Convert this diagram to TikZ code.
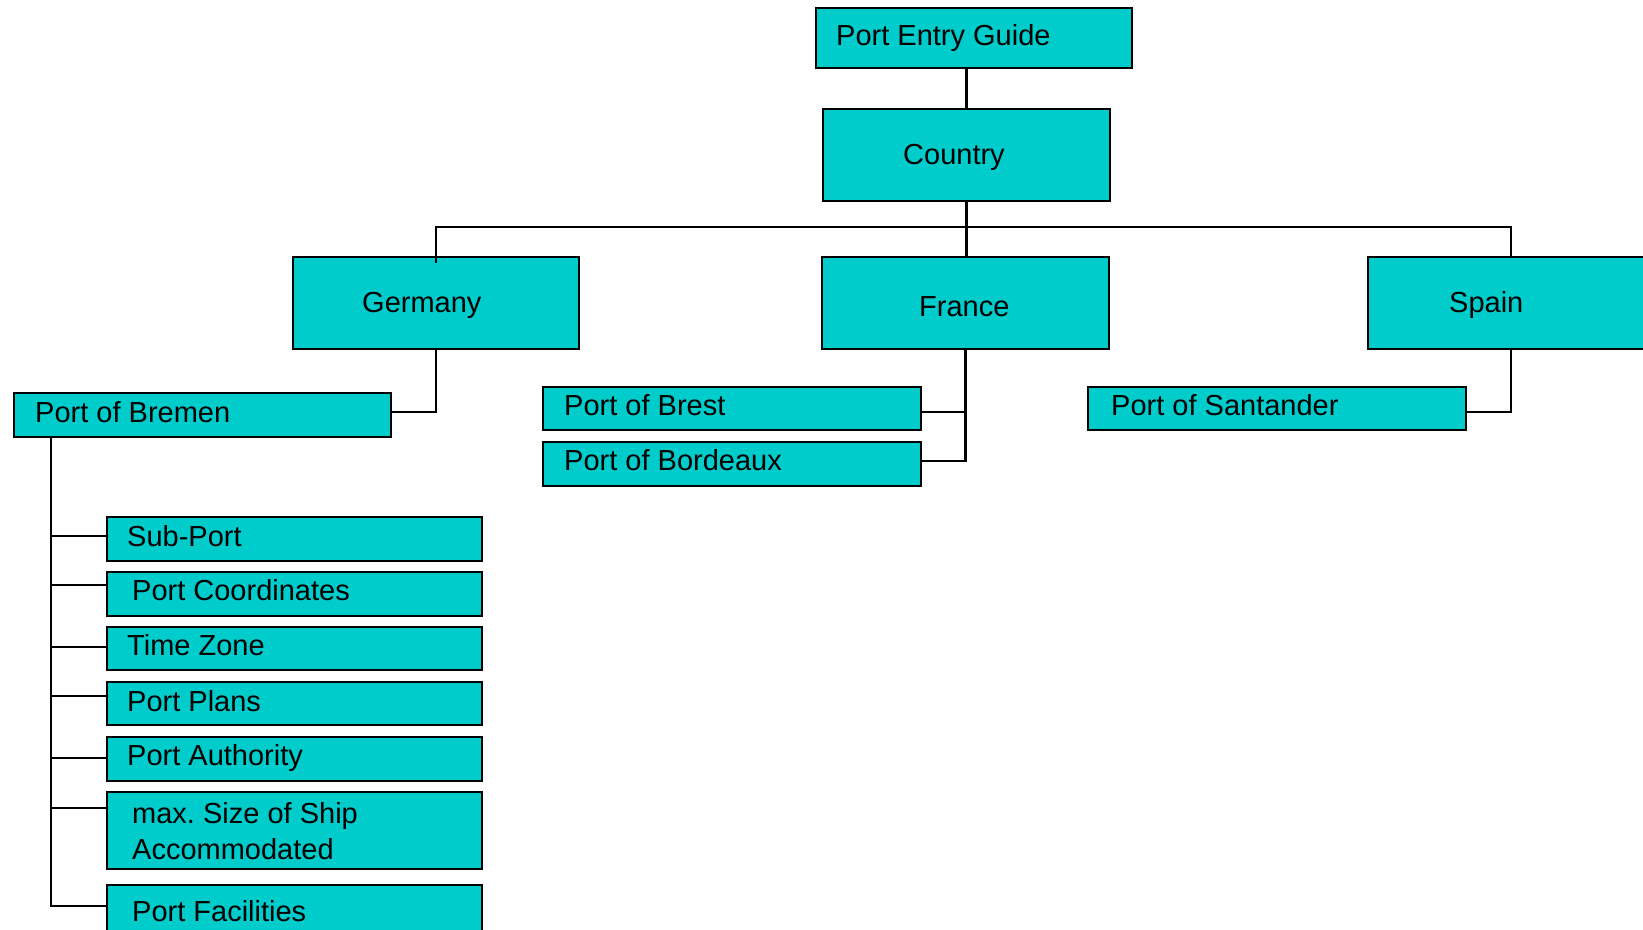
\documentclass[tikz,border=0pt]{standalone}
\usepackage{fontspec}
\setmainfont{Liberation Sans}
\definecolor{boxc}{RGB}{0,204,204}
\frenchspacing
\begin{document}
\begin{tikzpicture}[x=1pt,y=-1pt,
  box/.style={draw=black, fill=boxc, rectangle, inner sep=0pt, outer sep=0pt, line width=2.6pt, anchor=north west},
  txt/.style={anchor=base west, inner sep=0pt, font=\fontsize{29}{35}\selectfont, text=black},
  conn/.style={draw=black, line width=2.6pt}]
\path[use as bounding box, clip] (0,0) rectangle (1643,929);
\fill[white] (0,0) rectangle (1643,929);

% boxes
\node[box, minimum width=316pt, minimum height=60pt] (pe) at (816,8) {};
\node[box, minimum width=287pt, minimum height=92pt] (country) at (823,109) {};
\node[box, minimum width=286pt, minimum height=92pt] (germany) at (293,257) {};
\node[box, minimum width=287pt, minimum height=92pt] (france) at (822,257) {};
\node[box, minimum width=320pt, minimum height=92pt] (spain) at (1368,257) {};
\node[box, minimum width=377pt, minimum height=44pt] (bremen) at (14,393) {};
\node[box, minimum width=378pt, minimum height=43pt] (brest) at (543,387) {};
\node[box, minimum width=378pt, minimum height=44pt] (bordeaux) at (543,442) {};
\node[box, minimum width=378pt, minimum height=43pt] (santander) at (1088,387) {};
\node[box, minimum width=375pt, minimum height=44pt] (subport) at (107,517) {};
\node[box, minimum width=375pt, minimum height=44pt] (coords) at (107,572) {};
\node[box, minimum width=375pt, minimum height=43pt] (time) at (107,627) {};
\node[box, minimum width=375pt, minimum height=43pt] (plans) at (107,682) {};
\node[box, minimum width=375pt, minimum height=44pt] (authority) at (107,737) {};
\node[box, minimum width=375pt, minimum height=77pt] (maxsize) at (107,792) {};
\node[box, minimum width=375pt, minimum height=80pt] (facilities) at (107,885) {};

% texts
\node[txt] (t-pe) at (836,45) {Port Entry Guide};
\node[txt] (t-country) at (903,164) {Country};
\node[txt] (t-germany) at (362,312) {Germany};
\node[txt] (t-france) at (919,316) {France};
\node[txt] (t-spain) at (1449,312) {Spain};
\node[txt] (t-bremen) at (35,422) {Port of Bremen};
\node[txt] (t-brest) at (564,415) {Port of Brest};
\node[txt] (t-bordeaux) at (564,470) {Port of Bordeaux};
\node[txt] (t-santander) at (1111,415) {Port of Santander};
\node[txt] (t-subport) at (127,546) {Sub-Port};
\node[txt] (t-coords) at (132,600) {Port Coordinates};
\node[txt] (t-time) at (127,655) {Time Zone};
\node[txt] (t-plans) at (127,711) {Port Plans};
\node[txt] (t-authority) at (127,765) {Port Authority};
\node[txt] (t-max1) at (132,823) {max.\ Size of Ship};
\node[txt] (t-max2) at (132,859) {Accommodated};
\node[txt] (t-facilities) at (132,921) {Port Facilities};

% connectors
\coordinate (spx) at (1511,227);
\coordinate (bt) at ([xshift=37pt]bremen.south west);
\draw[conn] (country.north |- pe.south) -- (country.north);
\draw[conn] (country.south) -- (country.south |- france.north);
\draw[conn] ([yshift=-6pt]germany.north) -- (germany.north |- spx) -- (spx) -- (spx |- spain.north);
\draw[conn] (spx |- spain.south) |- ([yshift=-25pt]santander.north east);
\draw[conn] (germany.south) |- ([yshift=-19pt]bremen.north east);
\draw[conn] (france.south) |- ([yshift=-19pt]bordeaux.north east);
\draw[conn] ([yshift=-25pt]brest.north east) -| (france.south);
\draw[conn] (bt) |- ([yshift=-19pt]subport.north west);
\draw[conn] (bt) |- ([yshift=-13pt]coords.north west);
\draw[conn] (bt) |- ([yshift=-20pt]time.north west);
\draw[conn] (bt) |- ([yshift=-14pt]plans.north west);
\draw[conn] (bt) |- ([yshift=-21pt]authority.north west);
\draw[conn] (bt) |- ([yshift=-16pt]maxsize.north west);
\draw[conn] (bt) |- ([yshift=-21pt]facilities.north west);
\end{tikzpicture}
\end{document}
